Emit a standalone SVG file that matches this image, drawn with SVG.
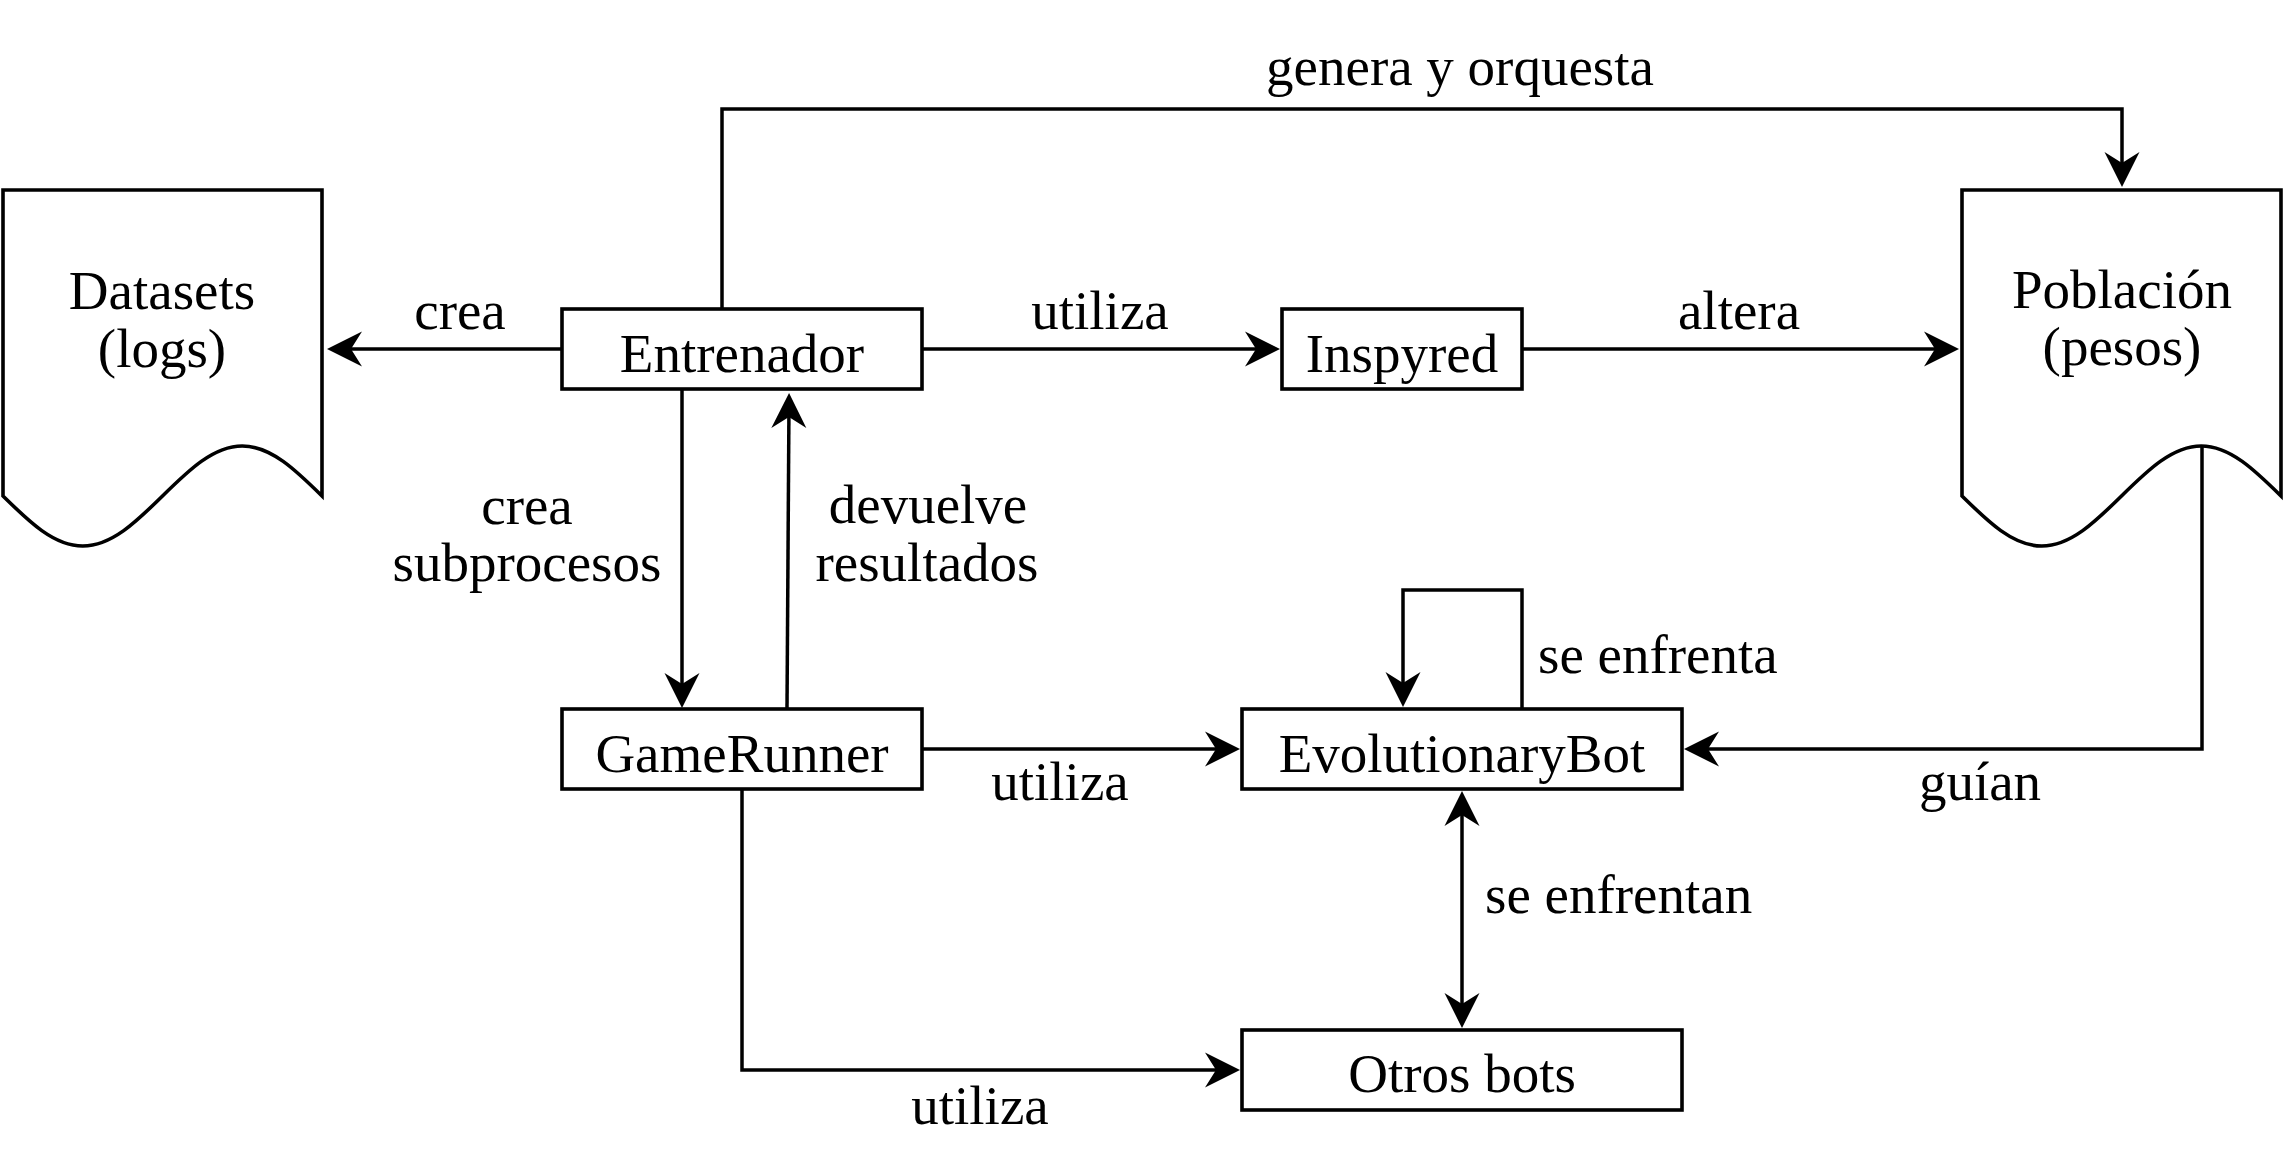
<svg xmlns="http://www.w3.org/2000/svg" width="2284" height="1164" viewBox="0 0 2284 1164">
<style>
.box{fill:#fff;stroke:#000;stroke-width:3.6}
.doc{fill:#fff;stroke:#000;stroke-width:3.6;stroke-linejoin:miter}
.t{font-family:"Liberation Serif","Times New Roman",serif;font-size:55px;fill:#000;text-anchor:middle}
.ts{text-anchor:start}
.c{fill:none;stroke:#000;stroke-width:3.5;stroke-linejoin:miter}
.ce{marker-end:url(#arr)}
</style>
<defs>
<marker id="arr" markerUnits="userSpaceOnUse" markerWidth="60" markerHeight="60" refX="0" refY="0" orient="auto-start-reverse" overflow="visible" viewBox="-30 -30 60 60">
<path d="M24,0 L-11,-17.5 L0,0 L-11,17.5 Z" fill="#000"/>
</marker>
</defs>
<rect width="2284" height="1164" fill="#fff"/>
<g id="connectors">
<path class="c ce" d="M562,349 H351"/>
<path class="c ce" d="M922,349 H1256"/>
<path class="c ce" d="M1522,349 H1935"/>
<path class="c ce" d="M722,309 V109 H2122 V163"/>
<path class="c ce" d="M682,389 V684"/>
<path class="c ce" d="M787,709 L788.9,417"/>
<path class="c ce" d="M922,749 H1216"/>
<path class="c ce" d="M742,789 V1070 H1216"/>
<path class="c ce" d="M1462,815 V1004" marker-start="url(#arr)"/>
<path class="c ce" d="M1522,709 V590 H1403 V683"/>
<path class="c ce" d="M2202,446 V749 H1708"/>
</g>
<g id="labels">
<text class="t" x="1460" y="85">genera y orquesta</text>
<text class="t" x="460" y="329">crea</text>
<text class="t" x="1100" y="329">utiliza</text>
<text class="t" x="1739" y="329">altera</text>
<text class="t" x="527" y="524">crea</text>
<text class="t" x="527" y="581">subprocesos</text>
<text class="t" x="928" y="523">devuelve</text>
<text class="t" x="927" y="581">resultados</text>
<text class="t" x="1060" y="800">utiliza</text>
<text class="t" x="980" y="1124">utiliza</text>
<text class="t ts" x="1538" y="673">se enfrenta</text>
<text class="t ts" x="1485" y="913">se enfrentan</text>
<text class="t" x="1980" y="800">guían</text>
</g>
<g id="datasets">
<path class="doc" d="M3,190 H322 V496 C296,470.4 271.1,446 242.25,446 C213.4,446 188.5,470.4 162.5,496 C136.5,521.6 111.6,546 82.75,546 C53.9,546 29,521.6 3,496 Z"/>
<text class="t" x="162" y="309">Datasets</text>
<text class="t" x="162" y="367">(logs)</text>
</g>
<g id="poblacion">
<path class="doc" d="M1962,190 H2281 V496 C2255,470.4 2230.1,446 2201.25,446 C2172.4,446 2147.5,470.4 2121.5,496 C2095.5,521.6 2070.6,546 2041.75,546 C2012.9,546 1988,521.6 1962,496 Z"/>
<text class="t" x="2122" y="308">Población</text>
<text class="t" x="2122" y="365">(pesos)</text>
</g>
<g id="entrenador">
<rect class="box" x="562" y="309" width="360" height="80"/>
<text class="t" x="742" y="372">Entrenador</text>
</g>
<g id="inspyred">
<rect class="box" x="1282" y="309" width="240" height="80"/>
<text class="t" x="1402" y="372">Inspyred</text>
</g>
<g id="gamerunner">
<rect class="box" x="562" y="709" width="360" height="80"/>
<text class="t" x="742" y="772">GameRunner</text>
</g>
<g id="evolutionarybot">
<rect class="box" x="1242" y="709" width="440" height="80"/>
<text class="t" x="1462" y="772">EvolutionaryBot</text>
</g>
<g id="otrosbots">
<rect class="box" x="1242" y="1030" width="440" height="80"/>
<text class="t" x="1462" y="1092">Otros bots</text>
</g>
</svg>
